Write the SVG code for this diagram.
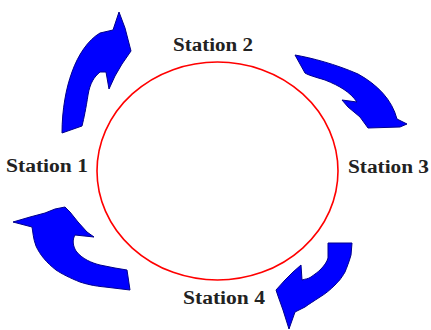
<svg xmlns="http://www.w3.org/2000/svg" width="431" height="330" viewBox="0 0 431 330">
<style>
.lbl{font-family:"Liberation Serif","Times New Roman",serif;font-weight:bold;font-size:18px;fill:#222}
.arr{fill:#0000ff;stroke:#00008b;stroke-width:1;stroke-linejoin:round}
</style>
<rect width="431" height="330" fill="#fff"/>
<g id="ring"><ellipse cx="217.5" cy="171" rx="120.5" ry="109" fill="none" stroke="#ff0000" stroke-width="1.6"/></g>
<g id="connectors">
<path class="arr" d="M62,133 C62,110 66,88 72,72 C78,55 88,40 100,33 L113,30 L119,12 L125,28 L131,51 L122,64 L115,76 L109,89 L106,72 L100,72 C94,77 90,83 88,95 C86,108 84,118 82,126 Z"/>
<path class="arr" d="M295,55 C312,58 335,64 358,74 C378,85 392,100 397,119 L407,124 L400,127 L368,128 L360,117 L348,107 L342,100 L357,102 C350,92 340,86 325,80 C315,77 308,75 305,73 Z"/>
<path class="arr" d="M13,222 L30,217 L45,213 L55,209 L65,207 L70,212 L78,222 L87,232 L94,237 L75,235 C72,240 73,246 76,251 C82,259 92,263 100,265 L115,268 L127,270 L130,290 L105,287 C94,286 86,284 80,282 C70,278 62,274 56,270 C47,263 40,255 36,246 C33,238 33,232 32,227 Z"/>
<path class="arr" d="M328,243 L352,243 L351,255 C349,262 347,267 345,272 C341,279 338,282 335,285 C330,290 325,294 320,297 C314,301 309,304 305,307 L295,312 L289,329 L283,310 L278,296 L276,290 L285,280 L293,272 L301,265 L302,280 C305,279 308,279 311,277 C315,274 318,272 320,270 C324,266 327,262 328,258 Z"/>
</g>
<g id="station1"><text class="lbl" x="6" y="172" textLength="82" lengthAdjust="spacingAndGlyphs">Station 1</text></g>
<g id="station2"><text class="lbl" x="173" y="51" textLength="80" lengthAdjust="spacingAndGlyphs">Station 2</text></g>
<g id="station3"><text class="lbl" x="348" y="173" textLength="81" lengthAdjust="spacingAndGlyphs">Station 3</text></g>
<g id="station4"><text class="lbl" x="183" y="304" textLength="82" lengthAdjust="spacingAndGlyphs">Station 4</text></g>
</svg>
